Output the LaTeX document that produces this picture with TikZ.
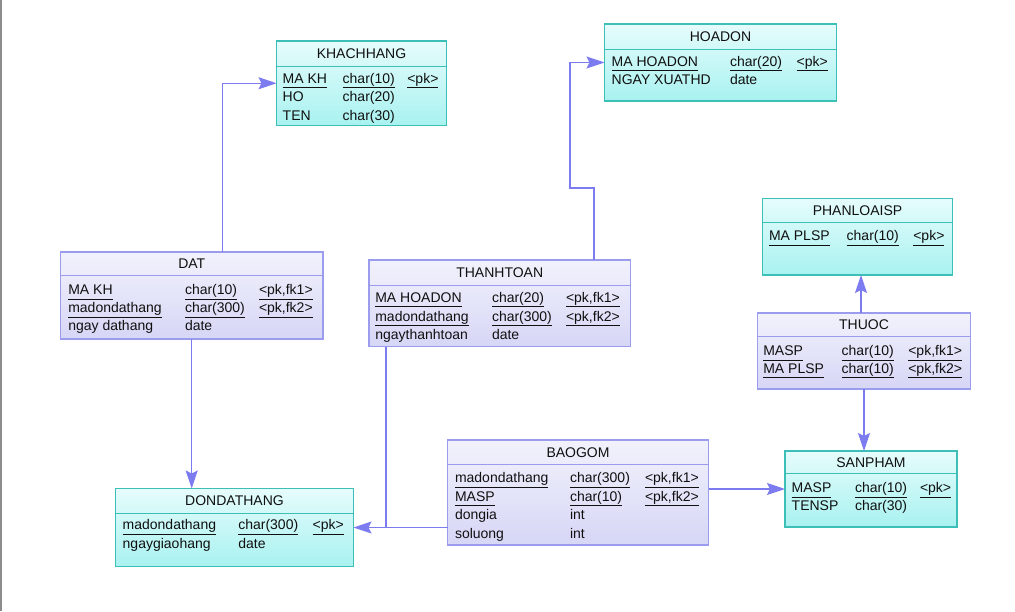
\documentclass[tikz,border=0pt]{standalone}
\usepackage{fontspec}
\setmainfont{Liberation Sans}
\usetikzlibrary{arrows.meta,calc}
\definecolor{cyB}{HTML}{3CBFB6}
\definecolor{cyT}{HTML}{E6FCFC}
\definecolor{cyBo}{HTML}{A8F2F0}
\definecolor{lvB}{HTML}{9C9CEE}
\definecolor{lvT}{HTML}{F2F2FC}
\definecolor{lvBo}{HTML}{D6D6F6}
\definecolor{lnk}{HTML}{7C7CF0}
\definecolor{txt}{HTML}{101010}
\newcommand\uline[1]{\underline{#1\vphantom{g}}}
\tikzset{
  cyantbl/.style={draw=cyB, line width=1.5pt, top color=cyT, bottom color=cyBo, inner sep=0pt, outer sep=0pt},
  lavtbl/.style={draw=lvB, line width=1.5pt, top color=lvT, bottom color=lvBo, inner sep=0pt, outer sep=0pt},
  cyantbl line/.style={draw=cyB, line width=1pt},
  lavtbl line/.style={draw=lvB, line width=1pt},
  ertext/.style={font=\fontsize{14}{16}\selectfont, text=txt, inner sep=0pt, outer sep=0pt},
  fk/.style={draw=lnk, line width=1.2pt, -{Stealth[length=18pt,width=12pt,inset=3pt]}},
  plain link/.style={draw=lnk, line width=1.2pt},
}
% #1 name #2 style #3 x #4 y #5 w #6 h #7 header line y #8 title baseline y #9 title
\newcommand\ertbl[9]{%
  \node[#2, anchor=north west, minimum width=#5pt, minimum height=#6pt] (#1) at (#3,#4) {};
  \draw[#2 line] (#1.west |- 0,#7) -- (#1.east |- 0,#7);
  \node[ertext, anchor=base] (#1-t) at (#1.north |- 0,#8) {#9};
}
% #1 name #2 c1 #3 c2 #4 c3 #5 first baseline #6 step #7 rows
\newcommand\errows[7]{%
  \foreach \a/\b/\c/\u [count=\i] in {#7} {
    \ifnum\u=1
      \node[ertext, anchor=base west] (#1-\i a) at (#2,{#5+(\i-1)*#6}) {\uline{\a}};
      \node[ertext, anchor=base west] (#1-\i b) at (#3,{#5+(\i-1)*#6}) {\uline{\b}};
      \node[ertext, anchor=base west] (#1-\i c) at (#4,{#5+(\i-1)*#6}) {\uline{\c}};
    \else
      \node[ertext, anchor=base west] (#1-\i a) at (#2,{#5+(\i-1)*#6}) {\a};
      \node[ertext, anchor=base west] (#1-\i b) at (#3,{#5+(\i-1)*#6}) {\b};
    \fi
  }%
}
\begin{document}
\begin{tikzpicture}[x=1pt,y={(0pt,-1pt)}]
\useasboundingbox (0,0) rectangle (1015,611);
\fill[white] (0,0) rectangle (1015,611);
\fill[gray!90] (0,0) rectangle (2,611);

\ertbl{khachhang}{cyantbl}{276.5}{41}{170}{84.5}{66}{58.5}{KHACHHANG}
\errows{khachhang}{282.7}{342.7}{407.3}{83.2}{18.5}{MA KH/char(10)/<pk>/1, HO/char(20)//0, TEN/char(30)//0}

\ertbl{hoadon}{cyantbl}{604.5}{24}{232}{77}{49.5}{41.7}{HOADON}
\errows{hoadon}{611.7}{730}{796.7}{66.2}{18.4}{MA HOADON/char(20)/<pk>/1, NGAY XUATHD/date//0}

\ertbl{dat}{lavtbl}{60.5}{252}{262.5}{87}{275}{268.5}{DAT}
\errows{dat}{68.3}{185}{259}{294.9}{17.8}{MA KH/char(10)/<pk{,}fk1>/1, madondathang/char(300)/<pk{,}fk2>/1, ngay dathang/date//0}

\ertbl{thanhtoan}{lavtbl}{369}{260}{261.5}{86.5}{285.5}{277.7}{THANHTOAN}
\errows{thanhtoan}{375.3}{492}{566}{302.2}{18.8}{MA HOADON/char(20)/<pk{,}fk1>/1, madondathang/char(300)/<pk{,}fk2>/1, ngaythanhtoan/date//0}

\ertbl{phanloaisp}{cyantbl}{762.5}{198.5}{190}{76.5}{222.5}{215.5}{PHANLOAISP}
\errows{phanloaisp}{769}{846.7}{913.3}{240.9}{18}{MA PLSP/char(10)/<pk>/1}

\ertbl{thuoc}{lavtbl}{757.5}{313}{213}{76}{336.5}{329.7}{THUOC}
\errows{thuoc}{763.3}{841.7}{908.3}{355.6}{17.6}{MASP/char(10)/<pk{,}fk1>/1, MA PLSP/char(10)/<pk{,}fk2>/1}

\ertbl{baogom}{lavtbl}{447.5}{440}{261}{105}{464}{457}{BAOGOM}
\errows{baogom}{455}{570}{645}{482.6}{18.6}{madondathang/char(300)/<pk{,}fk1>/1, MASP/char(10)/<pk{,}fk2>/1, dongia/int//0, soluong/int//0}

\ertbl{sanpham}{cyantbl}{785}{451}{172}{76}{473.5}{467.2}{SANPHAM}
\errows{sanpham}{791.7}{855}{920}{492.6}{18.3}{MASP/char(10)/<pk>/1, TENSP/char(30)//0}

\ertbl{dondathang}{cyantbl}{115.5}{488.5}{238}{78}{513}{505.7}{DONDATHANG}
\errows{dondathang}{122.7}{238.3}{312.7}{529.9}{18.3}{madondathang/char(300)/<pk>/1, ngaygiaohang/date//0}

% connectors
\draw[fk] (dat.north -| 222.5,0) |- (khachhang.west);
\draw[fk] (dat.south -| 191.7,0) -- (dondathang.north -| 191.7,0);
\draw[fk] (thanhtoan.north -| 594,0) |- (570,188) |- (hoadon.west);
\coordinate (join) at (386,0 |- dondathang.east);
\draw[plain link] (baogom.west |- dondathang.east) -- (join);
\draw[fk] (thanhtoan.south -| 386,0) |- (dondathang.east);
\draw[fk] (baogom.east |- sanpham.west) -- (sanpham.west);
\draw[fk] (thuoc.north -| 861,0) -- (phanloaisp.south -| 861,0);
\draw[fk] (thuoc.south -| 864,0) -- (sanpham.north -| 864,0);
\end{tikzpicture}
\end{document}
